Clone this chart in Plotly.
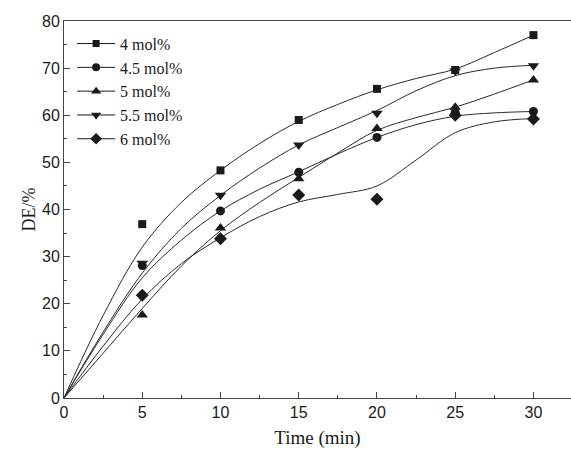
import plotly.graph_objects as go

# measured points
time_pts = [0, 5, 10, 15, 20, 25, 30]
de_4 = [0, 36.9, 48.3, 59.0, 65.6, 69.6, 77.0]
de_45 = [0, 28.1, 39.7, 47.9, 55.3, 60.6, 60.8]
de_5 = [0, 17.6, 36.1, 46.5, 57.2, 61.7, 67.5]
de_55 = [0, 28.6, 43.0, 53.7, 60.4, 69.4, 70.5]
de_6 = [0, 21.8, 33.8, 43.1, 42.2, 60.0, 59.2]

# fitted curves
fit_t = [0, 2.5, 5, 7.5, 10, 12.5, 15, 17.5, 20, 22.5, 25, 27.5, 30]
fit_4 = [0, 17.5, 32, 41.5, 48.3, 54, 58.7, 62.3, 65.4, 67.8, 69.8, 73.3, 77]
fit_45 = [0, 13.5, 25.5, 33.5, 39.7, 44.3, 48, 51.8, 55.3, 58, 59.8, 60.5, 60.8]
fit_5 = [0, 9.5, 19, 28, 35.5, 41.5, 46.8, 52, 56.8, 59.5, 61.7, 64.5, 67.5]
fit_55 = [0, 14, 26.5, 36, 43, 48.8, 53.7, 57.4, 61, 65.2, 68.4, 70, 70.6]
fit_6 = [0, 11, 21, 28.5, 34, 38.5, 41.6, 43.2, 45, 50.5, 56.3, 58.6, 59.3]

names = ["4 mol%", "4.5 mol%", "5 mol%", "5.5 mol%", "6 mol%"]
symbols = ["square", "circle", "triangle-up", "triangle-down", "diamond"]
sizes = [8, 9, 10, 10, 10]
pts = [de_4, de_45, de_5, de_55, de_6]
fits = [fit_4, fit_45, fit_5, fit_55, fit_6]

INK = "#1a1a1a"
SERIF = "Liberation Serif, Times New Roman, serif"
SANS = "Liberation Sans, Arial, sans-serif"
fig = go.Figure()
for i in range(5):
    fig.add_trace(go.Scatter(x=fit_t, y=fits[i], mode="lines", line=dict(color="#2a2a2a", width=1, shape="spline", smoothing=1.0),
                             showlegend=False, hoverinfo="skip"))
for i in range(5):
    fig.add_trace(go.Scatter(x=time_pts[1:], y=pts[i][1:], mode="markers",
                             marker=dict(symbol=symbols[i], size=sizes[i], color=INK),
                             showlegend=False))
    fig.add_trace(go.Scatter(x=[None], y=[None], mode="lines+markers", name=names[i],
                             line=dict(color=INK, width=1),
                             marker=dict(symbol=symbols[i], size=sizes[i] - 1, color=INK)))

fig.update_layout(
    width=571, height=453,
    margin=dict(l=64, r=0, t=21, b=55),
    paper_bgcolor="white", plot_bgcolor="white",
    showlegend=True,
    legend=dict(x=0.016, y=0.985, xanchor="left", yanchor="top",
                font=dict(family=SERIF, size=16, color=INK),
                bgcolor="rgba(0,0,0,0)", tracegroupgap=0,
                itemwidth=38),
    font=dict(family=SANS, size=16, color=INK),
)
fig.update_xaxes(range=[0, 32.4], tickvals=[0, 5, 10, 15, 20, 25, 30], ticks="inside", ticklen=6,
                 tickcolor="#444", showline=True, linecolor="#444", linewidth=1, mirror=True,
                 showgrid=False, zeroline=False,
                 minor=dict(tickvals=[2.5, 7.5, 12.5, 17.5, 22.5, 27.5], ticks="inside", ticklen=3, tickcolor="#444"),
                 title=dict(text="Time (min)", font=dict(family=SERIF, size=19), standoff=10),
                 tickfont=dict(family=SANS, size=16))
fig.update_yaxes(range=[0, 80], tickvals=[0, 10, 20, 30, 40, 50, 60, 70, 80], ticks="inside", ticklen=6,
                 tickcolor="#444", showline=True, linecolor="#444", linewidth=1,
                 showgrid=False, zeroline=False,
                 minor=dict(tickvals=[5, 15, 25, 35, 45, 55, 65, 75], ticks="inside", ticklen=3, tickcolor="#444"),
                 title=dict(text="DE/%", font=dict(family=SERIF, size=18), standoff=1),
                 tickfont=dict(family=SANS, size=16))

fig.write_html("out.html")
